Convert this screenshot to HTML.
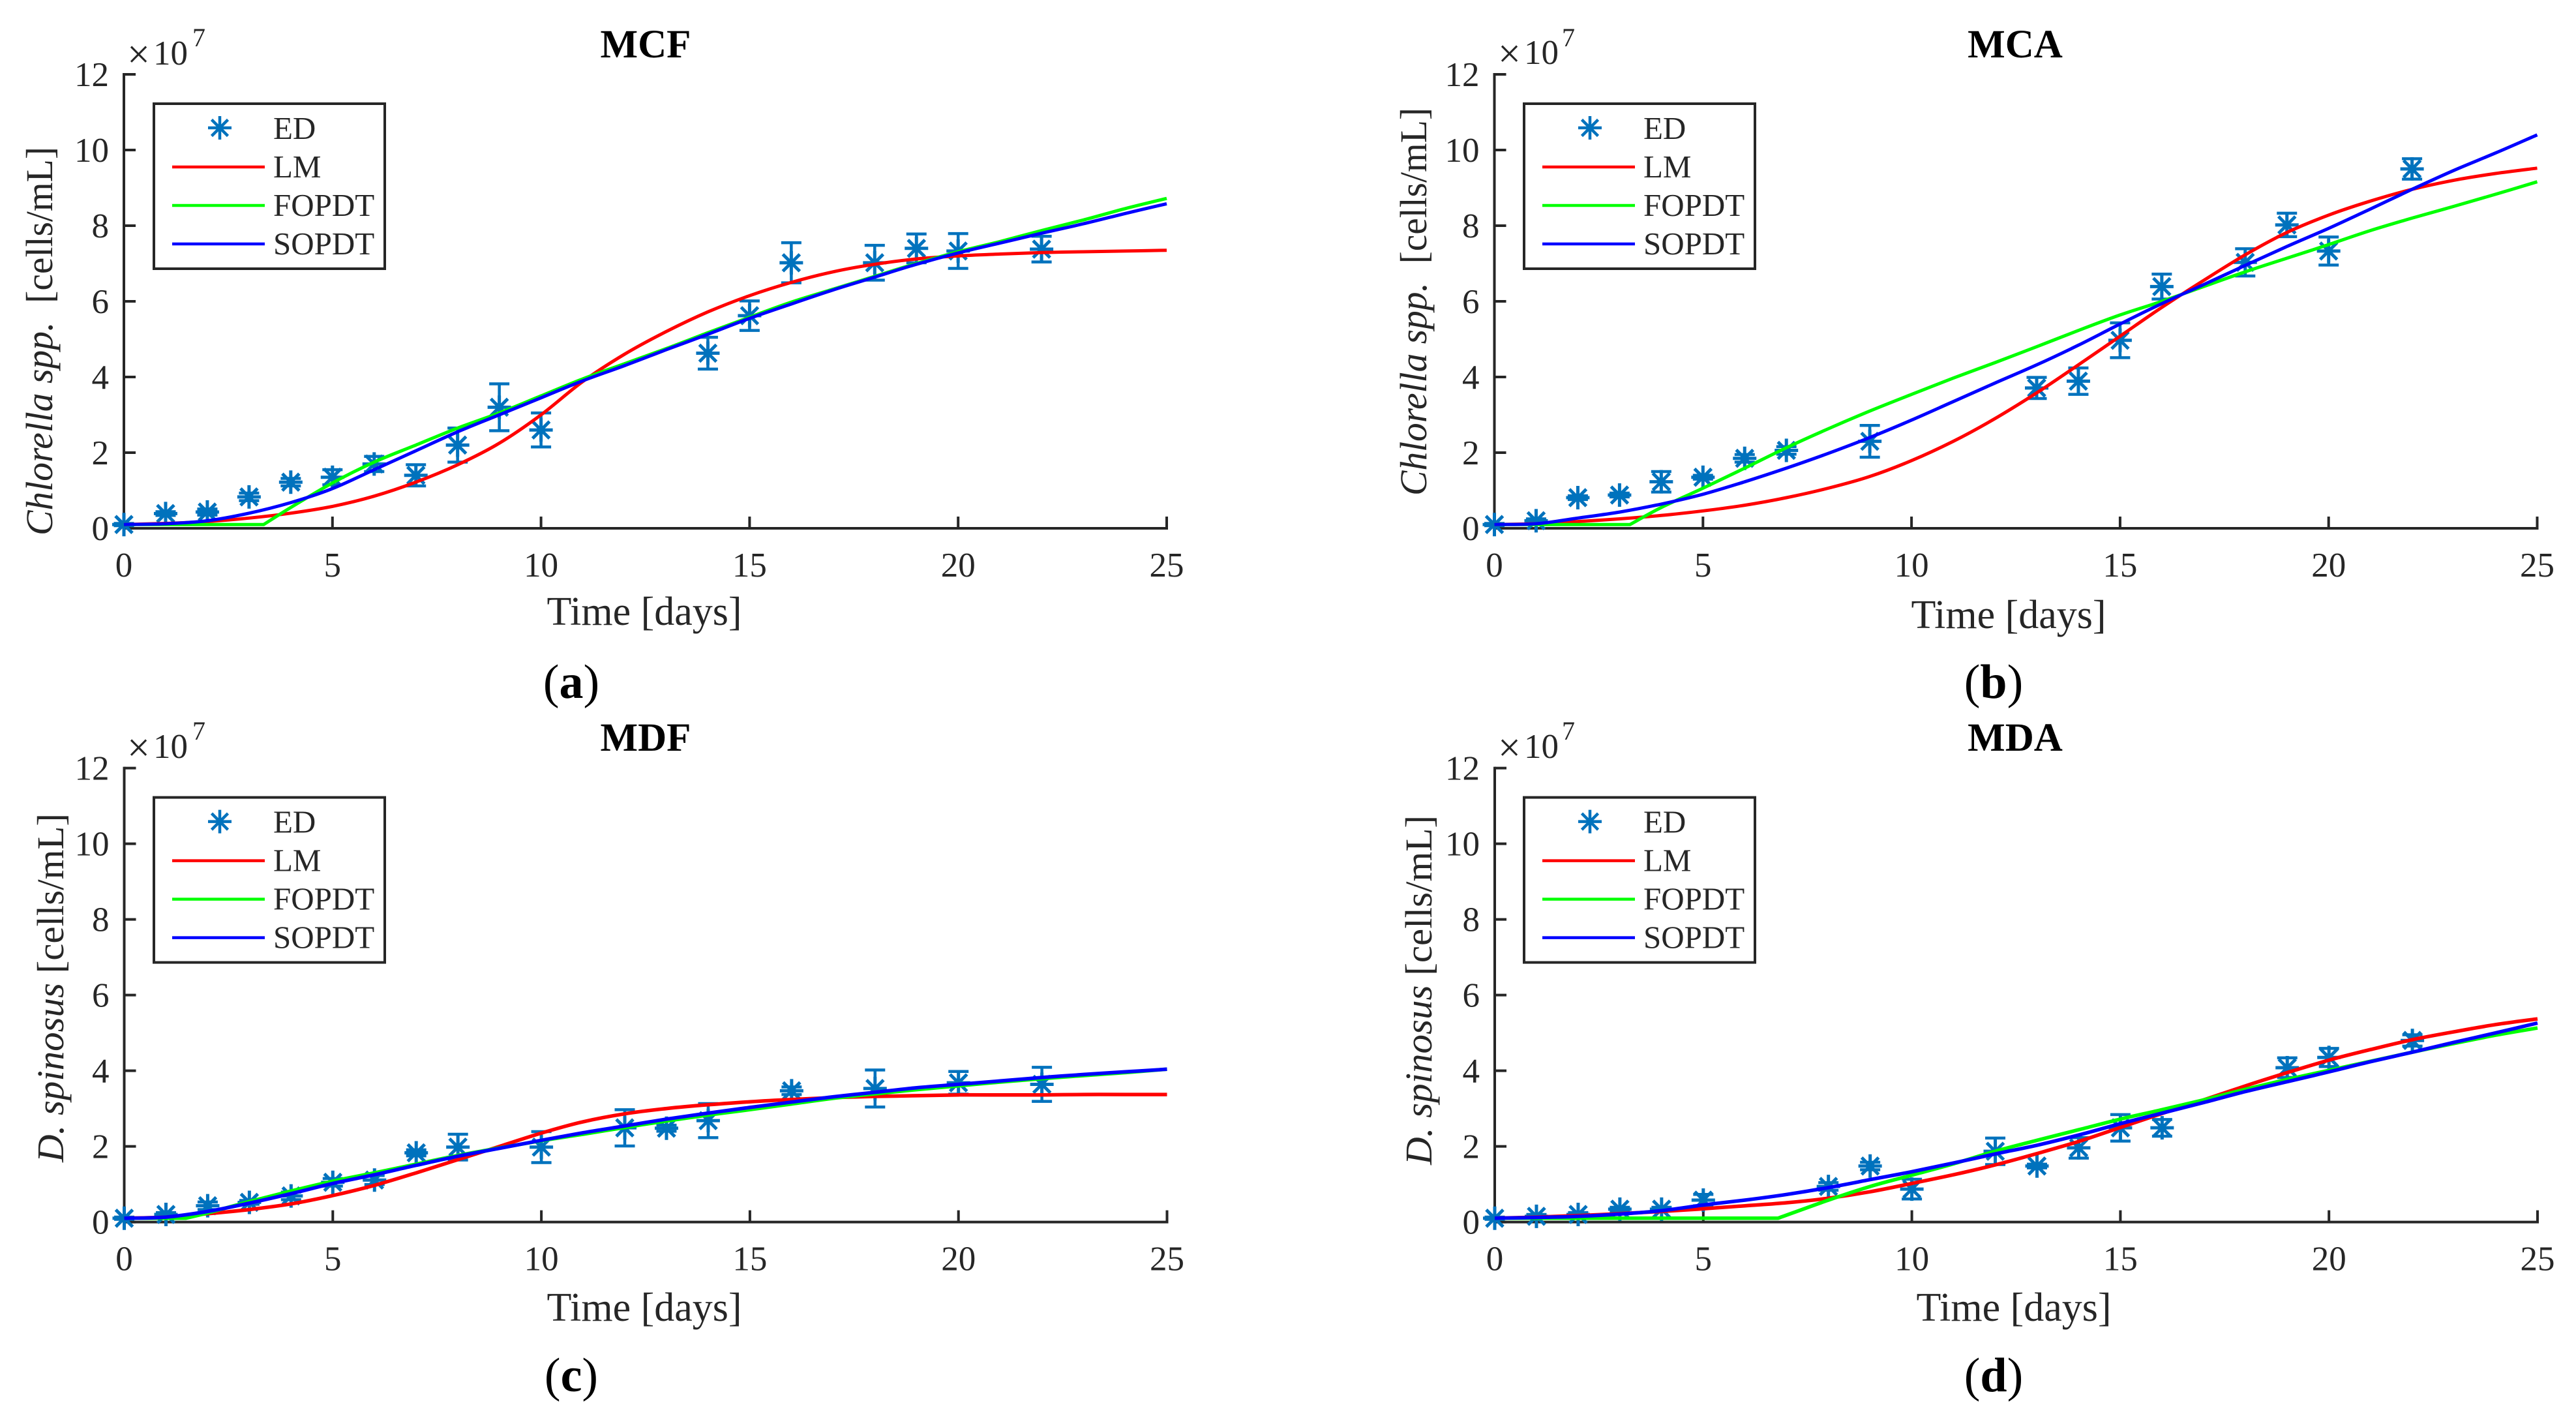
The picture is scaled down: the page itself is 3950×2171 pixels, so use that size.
<!DOCTYPE html>
<html lang="en">
<head>
<meta charset="utf-8">
<title>Growth model comparison</title>
<style>
html,body{margin:0;padding:0;background:#fff}
svg{display:block}
text{font-family:"Liberation Serif",serif;fill:#262626}
.tk{font-size:53px}
.mx{font-size:62px}
.lb{font-size:62px}
.yl{font-size:58px}
.lg{font-size:49px}
.ti{font-size:61px;font-weight:bold;fill:#000;text-anchor:middle}
.pl{font-size:74px;fill:#000;text-anchor:middle}
.pl tspan{font-weight:bold}
.ex{font-size:40px}
.box{fill:#fff;stroke:#262626;stroke-width:4}
.mk{stroke:#0072BD;stroke-width:4.500;fill:none}
</style>
</head>
<body>
<svg id="chart" xmlns="http://www.w3.org/2000/svg" width="3950" height="2171" viewBox="0 0 3950 2171">
<rect width="3950" height="2171" fill="#fff"/>

<g>
<text class="ti" x="990" y="88">MCF</text>
<text class="lb" x="988" y="958" text-anchor="middle">Time [days]</text>
<text class="yl" transform="translate(80,821) rotate(-90)" textLength="596" lengthAdjust="spacingAndGlyphs" xml:space="preserve"><tspan font-style="italic">Chlorella spp.</tspan>  [cells/mL]</text>
<text class="mx" x="195" y="104">×</text>
<text class="tk" x="235" y="99">10</text>
<text class="ex" x="295" y="71">7</text>
<text class="pl" x="876" y="1070">(<tspan>a</tspan>)</text>
</g>
<g>
<text class="ti" x="3090" y="88">MCA</text>
<text class="lb" x="3080" y="963" text-anchor="middle">Time [days]</text>
<text class="yl" transform="translate(2187,760) rotate(-90)" textLength="595" lengthAdjust="spacingAndGlyphs" xml:space="preserve"><tspan font-style="italic">Chlorella spp.</tspan>  [cells/mL]</text>
<text class="mx" x="2297" y="103">×</text>
<text class="tk" x="2337" y="98">10</text>
<text class="ex" x="2395" y="71">7</text>
<text class="pl" x="3057" y="1070">(<tspan>b</tspan>)</text>
</g>
<g>
<text class="ti" x="990" y="1151">MDF</text>
<text class="lb" x="988" y="2025" text-anchor="middle">Time [days]</text>
<text class="yl" transform="translate(97,1782) rotate(-90)" textLength="535" lengthAdjust="spacingAndGlyphs" xml:space="preserve"><tspan font-style="italic">D. spinosus</tspan> [cells/mL]</text>
<text class="mx" x="195" y="1167">×</text>
<text class="tk" x="235" y="1162">10</text>
<text class="ex" x="295" y="1134">7</text>
<text class="pl" x="876" y="2133">(<tspan>c</tspan>)</text>
</g>
<g>
<text class="ti" x="3090" y="1151">MDA</text>
<text class="lb" x="3088" y="2025" text-anchor="middle">Time [days]</text>
<text class="yl" transform="translate(2195,1786) rotate(-90)" textLength="536" lengthAdjust="spacingAndGlyphs" xml:space="preserve"><tspan font-style="italic">D. spinosus</tspan> [cells/mL]</text>
<text class="mx" x="2297" y="1167">×</text>
<text class="tk" x="2337" y="1162">10</text>
<text class="ex" x="2395" y="1134">7</text>
<text class="pl" x="3057" y="2133">(<tspan>d</tspan>)</text>
</g>

<g id="legend-a" transform="translate(0,0)">
<rect class="box" x="236" y="159" width="354" height="253"/>
<path class="mk" d="M337 178V214M319 196H355M324.500 183.500L349.500 208.500M349.500 183.500L324.500 208.500"/>
<path d="M264 256H406" stroke="#ff0000" stroke-width="4.500"/>
<path d="M264 315H406" stroke="#00ff00" stroke-width="4.500"/>
<path d="M264 374H406" stroke="#0000ff" stroke-width="4.500"/>
<text class="lg" x="419" y="213">ED</text>
<text class="lg" x="419" y="272">LM</text>
<text class="lg" x="419" y="331">FOPDT</text>
<text class="lg" x="419" y="390">SOPDT</text>
</g>
<g id="legend-b" transform="translate(2101,0)">
<rect class="box" x="236" y="159" width="354" height="253"/>
<path class="mk" d="M337 178V214M319 196H355M324.500 183.500L349.500 208.500M349.500 183.500L324.500 208.500"/>
<path d="M264 256H406" stroke="#ff0000" stroke-width="4.500"/>
<path d="M264 315H406" stroke="#00ff00" stroke-width="4.500"/>
<path d="M264 374H406" stroke="#0000ff" stroke-width="4.500"/>
<text class="lg" x="419" y="213">ED</text>
<text class="lg" x="419" y="272">LM</text>
<text class="lg" x="419" y="331">FOPDT</text>
<text class="lg" x="419" y="390">SOPDT</text>
</g>
<g id="legend-c" transform="translate(0,1063.600)">
<rect class="box" x="236" y="159" width="354" height="253"/>
<path class="mk" d="M337 178V214M319 196H355M324.500 183.500L349.500 208.500M349.500 183.500L324.500 208.500"/>
<path d="M264 256H406" stroke="#ff0000" stroke-width="4.500"/>
<path d="M264 315H406" stroke="#00ff00" stroke-width="4.500"/>
<path d="M264 374H406" stroke="#0000ff" stroke-width="4.500"/>
<text class="lg" x="419" y="213">ED</text>
<text class="lg" x="419" y="272">LM</text>
<text class="lg" x="419" y="331">FOPDT</text>
<text class="lg" x="419" y="390">SOPDT</text>
</g>
<g id="legend-d" transform="translate(2101,1063.600)">
<rect class="box" x="236" y="159" width="354" height="253"/>
<path class="mk" d="M337 178V214M319 196H355M324.500 183.500L349.500 208.500M349.500 183.500L324.500 208.500"/>
<path d="M264 256H406" stroke="#ff0000" stroke-width="4.500"/>
<path d="M264 315H406" stroke="#00ff00" stroke-width="4.500"/>
<path d="M264 374H406" stroke="#0000ff" stroke-width="4.500"/>
<text class="lg" x="419" y="213">ED</text>
<text class="lg" x="419" y="272">LM</text>
<text class="lg" x="419" y="331">FOPDT</text>
<text class="lg" x="419" y="390">SOPDT</text>
</g>
</svg>

<script>
var xTickValues = [0, 5, 10, 15, 20, 25];
var yTickValues = [0, 2, 4, 6, 8, 10, 12];
var curveDays = [0,1,2,3,4,5,6,7,8,9,10,11,12,13,14,15,16,17,18,19,20,21,22,23,24,25];

/* MCF */
var mcfEdDays = [0,1,2,3,4,5,6,7,8,9,10,14,15,16,18,19,20,22];
var mcfEdValues = [0.1,0.39,0.43,0.83,1.22,1.35,1.7,1.4,2.2,3.2,2.6,4.63,5.62,7.02,7.02,7.4,7.33,7.38];
var mcfEdErrors = [0.03,0.05,0.08,0.1,0.1,0.2,0.2,0.28,0.45,0.62,0.45,0.42,0.39,0.53,0.46,0.38,0.46,0.34];
var mcfLm = [0.1,0.13,0.18,0.27,0.4,0.58,0.85,1.22,1.68,2.25,3.0,3.88,4.6,5.2,5.72,6.15,6.5,6.78,6.98,7.12,7.2,7.25,7.29,7.31,7.33,7.35];
var mcfFopdtDays = [0,3.35,4,5,6,7,8,9,10,11,12,13,14,15,16,17,18,19,20,21,22,23,24,25];
var mcfFopdt = [0.1,0.1,0.55,1.2,1.75,2.2,2.65,3.05,3.5,3.95,4.35,4.75,5.17,5.58,5.98,6.32,6.66,7.0,7.31,7.58,7.87,8.15,8.45,8.72];
var mcfSopdt = [0.1,0.12,0.2,0.4,0.68,1.05,1.55,2.05,2.55,3.0,3.45,3.9,4.3,4.72,5.13,5.55,5.93,6.3,6.64,6.98,7.28,7.54,7.8,8.05,8.32,8.58];

/* MCA */
var mcaEdDays = [0,1,2,3,4,5,6,7,9,13,14,15,16,18,19,20,22];
var mcaEdValues = [0.1,0.2,0.81,0.88,1.23,1.35,1.85,2.06,2.3,3.71,3.89,4.97,6.39,7.03,8.02,7.33,9.5];
var mcaEdErrors = [0.03,0.05,0.05,0.05,0.27,0.05,0.1,0.1,0.42,0.28,0.35,0.46,0.33,0.36,0.31,0.37,0.27];
var mcaLm = [0.1,0.12,0.18,0.25,0.34,0.46,0.61,0.81,1.06,1.37,1.79,2.3,2.9,3.58,4.32,5.08,5.84,6.55,7.23,7.82,8.28,8.65,8.96,9.2,9.38,9.52];
var mcaFopdtDays = [0,3.25,4,5,6,7,8,9,10,11,12,13,14,15,16,17,18,19,20,21,22,23,24,25];
var mcaFopdt = [0.1,0.1,0.55,1.06,1.59,2.13,2.63,3.1,3.54,3.97,4.38,4.8,5.23,5.64,6.0,6.39,6.78,7.14,7.5,7.87,8.2,8.51,8.83,9.16];
var mcaSopdt = [0.1,0.12,0.27,0.43,0.64,0.9,1.23,1.59,1.98,2.4,2.86,3.35,3.84,4.32,4.84,5.4,5.94,6.44,6.95,7.45,7.93,8.44,8.96,9.46,9.92,10.4];

/* MDF */
var mdfEdDays = [0,1,2,3,4,5,6,7,8,10,12,13,14,16,18,20,22];
var mdfEdValues = [0.1,0.2,0.43,0.52,0.69,1.05,1.11,1.83,1.98,1.98,2.49,2.48,2.68,3.47,3.53,3.68,3.64];
var mdfEdErrors = [0.03,0.05,0.1,0.05,0.1,0.1,0.12,0.08,0.34,0.41,0.48,0.08,0.45,0.1,0.49,0.3,0.45];
var mdfLm = [0.1,0.13,0.22,0.33,0.48,0.7,0.97,1.3,1.65,2.0,2.35,2.65,2.86,3.0,3.1,3.18,3.24,3.29,3.32,3.34,3.36,3.36,3.36,3.37,3.37,3.37];
var mdfFopdtDays = [0,1.47,2,3,4,5,6,7,8,9,10,11,12,13,14,15,16,17,18,19,20,21,22,23,24,25];
var mdfFopdt = [0.1,0.1,0.24,0.54,0.82,1.08,1.3,1.53,1.76,1.96,2.15,2.32,2.5,2.67,2.83,2.97,3.12,3.27,3.39,3.5,3.6,3.7,3.79,3.87,3.95,4.04];
var mdfSopdt = [0.1,0.13,0.28,0.5,0.75,1.02,1.25,1.5,1.74,1.95,2.16,2.36,2.54,2.72,2.88,3.03,3.17,3.31,3.43,3.55,3.64,3.73,3.82,3.9,3.97,4.04];

/* MDA */
var mdaEdDays = [0,1,2,3,4,5,8,9,10,12,13,14,15,16,19,20,22];
var mdaEdValues = [0.1,0.15,0.2,0.34,0.34,0.58,0.94,1.48,0.87,1.87,1.48,1.96,2.49,2.49,4.08,4.35,4.8];
var mdaEdErrors = [0.03,0.05,0.05,0.05,0.05,0.15,0.1,0.1,0.26,0.35,0.05,0.27,0.35,0.22,0.26,0.24,0.15];
var mdaLm = [0.1,0.13,0.17,0.22,0.28,0.35,0.43,0.51,0.63,0.8,1.02,1.25,1.51,1.81,2.13,2.5,2.87,3.23,3.6,3.95,4.28,4.56,4.82,5.03,5.22,5.37];
var mdaFopdtDays = [0,6.79,8,9,10,11,12,13,14,15,16,17,18,19,20,21,22,23,24,25];
var mdaFopdt = [0.1,0.1,0.58,0.94,1.24,1.54,1.87,2.16,2.44,2.72,2.97,3.23,3.51,3.77,4.01,4.25,4.49,4.72,4.94,5.13];
var mdaSopdt = [0.1,0.12,0.15,0.21,0.3,0.45,0.58,0.73,0.91,1.12,1.33,1.56,1.8,2.03,2.3,2.6,2.88,3.16,3.45,3.71,3.97,4.24,4.49,4.75,5.0,5.26];

var svgNs = 'http://www.w3.org/2000/svg';
var root = document.getElementById('chart');
var AXIS_COLOR = '#262626';
var X_MAX = 25, Y_MAX = 12, PLOT_W = 1599, PLOT_H = 696;

function make(tag, parent) {
  var el = document.createElementNS(svgNs, tag);
  parent.appendChild(el);
  return el;
}

function smoothPath(pts) {
  var d = '';
  for (var i = 0; i < pts.length - 1; i++) {
    var p0 = pts[Math.max(i - 1, 0)], p1 = pts[i], p2 = pts[i + 1], p3 = pts[Math.min(i + 2, pts.length - 1)];
    var c1x = p1[0] + (p2[0] - p0[0]) / 6, c1y = p1[1] + (p2[1] - p0[1]) / 6;
    var c2x = p2[0] - (p3[0] - p1[0]) / 6, c2y = p2[1] - (p3[1] - p1[1]) / 6;
    d += 'C' + c1x.toFixed(1) + ' ' + c1y.toFixed(1) + ' ' + c2x.toFixed(1) + ' ' + c2y.toFixed(1) + ' ' + p2[0].toFixed(1) + ' ' + p2[1].toFixed(1);
  }
  return d;
}

function renderPanel(key, originX, originY, lineWidth, edDays, edValues, edErrors, lm, fopdtDays, fopdt, sopdt) {
  function xScale(t) { return originX + t * PLOT_W / X_MAX; }
  function yScale(v) { return originY - v * PLOT_H / Y_MAX; }

  var g = make('g', root);
  
  

  var axes = make('path', g);
  
  
  axes.setAttribute('d', 'M' + xScale(0) + ' ' + yScale(Y_MAX) + 'V' + yScale(0) + 'H' + xScale(X_MAX));
  axes.setAttribute('fill', 'none');
  axes.setAttribute('stroke', AXIS_COLOR);
  axes.setAttribute('stroke-width', '4');
  axes.setAttribute('stroke-linecap', 'square');

  xTickValues.forEach(function (t) {
    var tick = make('path', g);
    
    
    tick.setAttribute('d', 'M' + xScale(t) + ' ' + yScale(0) + 'v-18');
    tick.setAttribute('stroke', AXIS_COLOR);
    tick.setAttribute('stroke-width', '4');
    var label = make('text', g);
    
    
    label.setAttribute('class', 'tk');
    label.setAttribute('x', xScale(t));
    label.setAttribute('y', yScale(0) + 74);
    label.setAttribute('text-anchor', 'middle');
    label.textContent = t;
  });

  yTickValues.forEach(function (v) {
    var tick = make('path', g);
    
    
    tick.setAttribute('d', 'M' + xScale(0) + ' ' + yScale(v) + 'h18');
    tick.setAttribute('stroke', AXIS_COLOR);
    tick.setAttribute('stroke-width', '4');
    var label = make('text', g);
    
    
    label.setAttribute('class', 'tk');
    label.setAttribute('x', xScale(0) - 23);
    label.setAttribute('y', yScale(v) + 18);
    label.setAttribute('text-anchor', 'end');
    label.textContent = v;
  });

  edDays.forEach(function (t, i) {
    var x = xScale(t), y = yScale(edValues[i]);
    var hi = yScale(edValues[i] + edErrors[i]), lo = yScale(edValues[i] - edErrors[i]);
    var bar = make('path', g);
    
    
    bar.setAttribute('class', 'mk');
    bar.setAttribute('d', 'M' + x + ' ' + hi + 'V' + lo + 'M' + (x - 15.500) + ' ' + hi + 'h31M' + (x - 15.500) + ' ' + lo + 'h31');
    var star = make('path', g);
    
    
    star.setAttribute('class', 'mk');
    star.setAttribute('stroke-width', '5');
    star.setAttribute('style', 'stroke-width:5');
    star.setAttribute('d', 'M' + x + ' ' + (y - 18) + 'v36M' + (x - 18) + ' ' + y + 'h36M' + (x - 13) + ' ' + (y - 13) + 'l26 26M' + (x + 13) + ' ' + (y - 13) + 'l-26 26');
  });

  /* startIndex marks the delay kink: points before it are joined by straight segments. */
  function curve(days, values, color, name, startIndex) {
    var pts = days.map(function (t, i) {
      return [xScale(t), yScale(values[i])];
    });
    var d = 'M' + pts[0][0].toFixed(1) + ' ' + pts[0][1].toFixed(1);
    for (var i = 1; i <= startIndex; i++) {
      d += 'L' + pts[i][0].toFixed(1) + ' ' + pts[i][1].toFixed(1);
    }
    d += smoothPath(pts.slice(startIndex));
    var line = make('path', g);
    
    
    line.setAttribute('d', d);
    line.setAttribute('fill', 'none');
    line.setAttribute('stroke', color);
    line.setAttribute('stroke-width', lineWidth);
    line.setAttribute('stroke-linejoin', 'round');
  }
  curve(curveDays, lm, '#ff0000', 'lm-curve-' + key, 0);
  curve(fopdtDays, fopdt, '#00ff00', 'fopdt-curve-' + key, 1);
  curve(curveDays, sopdt, '#0000ff', 'sopdt-curve-' + key, 0);
}

renderPanel('mcf', 190, 810, 5, mcfEdDays, mcfEdValues, mcfEdErrors, mcfLm, mcfFopdtDays, mcfFopdt, mcfSopdt);
renderPanel('mca', 2291.500, 810, 5, mcaEdDays, mcaEdValues, mcaEdErrors, mcaLm, mcaFopdtDays, mcaFopdt, mcaSopdt);
renderPanel('mdf', 190.500, 1873.600, 5.500, mdfEdDays, mdfEdValues, mdfEdErrors, mdfLm, mdfFopdtDays, mdfFopdt, mdfSopdt);
renderPanel('mda', 2292, 1873.600, 5.500, mdaEdDays, mdaEdValues, mdaEdErrors, mdaLm, mdaFopdtDays, mdaFopdt, mdaSopdt);
</script>
</body>
</html>
